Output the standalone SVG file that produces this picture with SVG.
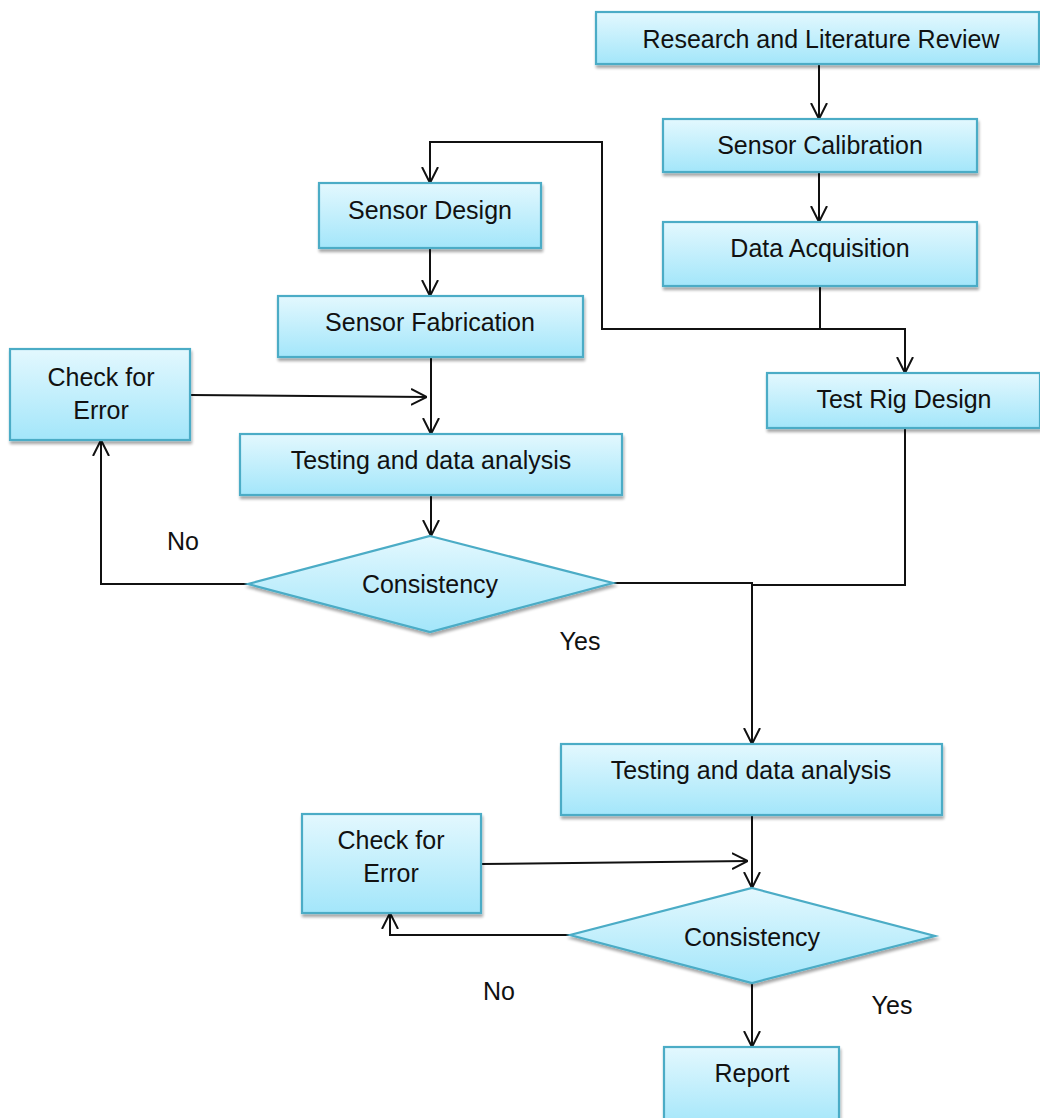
<svg xmlns="http://www.w3.org/2000/svg" width="1040" height="1118" viewBox="0 0 1040 1118">
<style>
.box{fill:url(#g);stroke:#4bacc6;stroke-width:2.2;filter:url(#sh)}
.t{font-family:"Liberation Sans",Arial,sans-serif;font-size:25px;fill:#111;text-anchor:middle}
.c{fill:none;stroke:#111;stroke-width:2}
</style>
<defs>
<linearGradient id="g" x1="0" y1="0" x2="0" y2="1">
<stop offset="0" stop-color="#e3f8fe"/>
<stop offset="1" stop-color="#a3e6fa"/>
</linearGradient>
<filter id="sh" x="-10%" y="-10%" width="120%" height="130%">
<feGaussianBlur in="SourceAlpha" stdDeviation="1.5"/>
<feOffset dx="1" dy="3" result="b"/>
<feComponentTransfer><feFuncA type="linear" slope="0.35"/></feComponentTransfer>
<feMerge><feMergeNode/><feMergeNode in="SourceGraphic"/></feMerge>
</filter>
<marker id="a" markerUnits="userSpaceOnUse" markerWidth="16" markerHeight="22" viewBox="0 0 16 22" refX="16" refY="11" orient="auto">
<path d="M0,3 L16,11 L0,19" fill="none" stroke="#111" stroke-width="2"/>
</marker>
</defs>

<g id="connectors">
<path class="c" d="M819,64 V119" marker-end="url(#a)"/>
<path class="c" d="M819,172 V222" marker-end="url(#a)"/>
<path class="c" d="M820,286 V329 H602 V142 H430 V183" marker-end="url(#a)"/>
<path class="c" d="M820,329 H905 V373" marker-end="url(#a)"/>
<path class="c" d="M430,248 V296" marker-end="url(#a)"/>
<path class="c" d="M431,357 V434" marker-end="url(#a)"/>
<path class="c" d="M190,395 L427,397" marker-end="url(#a)"/>
<path class="c" d="M431,495 V536" marker-end="url(#a)"/>
<path class="c" d="M248,584 H101 V440" marker-end="url(#a)"/>
<path class="c" d="M613,583 H752 V744" marker-end="url(#a)"/>
<path class="c" d="M905,428 V585 H752"/>
<path class="c" d="M752,815 V888" marker-end="url(#a)"/>
<path class="c" d="M481,864 L748,861" marker-end="url(#a)"/>
<path class="c" d="M570,935 H390 V913" marker-end="url(#a)"/>
<path class="c" d="M752,983 V1047" marker-end="url(#a)"/>
</g>

<g id="research"><rect class="box" x="596" y="12" width="443" height="52"/><text class="t" x="821" y="48">Research and Literature Review</text></g>
<g id="calibration"><rect class="box" x="663" y="119" width="314" height="53"/><text class="t" x="820" y="154">Sensor Calibration</text></g>
<g id="acquisition"><rect class="box" x="663" y="222" width="314" height="64"/><text class="t" x="820" y="257">Data Acquisition</text></g>
<g id="design"><rect class="box" x="319" y="183" width="222" height="65"/><text class="t" x="430" y="219">Sensor Design</text></g>
<g id="fabrication"><rect class="box" x="278" y="296" width="305" height="61"/><text class="t" x="430" y="331">Sensor Fabrication</text></g>
<g id="check1"><rect class="box" x="10" y="349" width="180" height="91"/><text class="t" x="101" y="386">Check for</text><text class="t" x="101" y="419">Error</text></g>
<g id="testing1"><rect class="box" x="240" y="434" width="382" height="61"/><text class="t" x="431" y="469">Testing and data analysis</text></g>
<g id="consistency1"><polygon class="box" points="430,536 613,583 430,632 248,584"/><text class="t" x="430" y="593">Consistency</text></g>
<g id="rig"><rect class="box" x="767" y="373" width="273" height="55"/><text class="t" x="904" y="408">Test Rig Design</text></g>
<g id="testing2"><rect class="box" x="561" y="744" width="381" height="71"/><text class="t" x="751" y="779">Testing and data analysis</text></g>
<g id="check2"><rect class="box" x="302" y="814" width="179" height="99"/><text class="t" x="391" y="849">Check for</text><text class="t" x="391" y="882">Error</text></g>
<g id="consistency2"><polygon class="box" points="752,888 935,936 752,983 570,935"/><text class="t" x="752" y="946">Consistency</text></g>
<g id="report"><rect class="box" x="664" y="1047" width="175" height="80"/><text class="t" x="752" y="1082">Report</text></g>

<g id="labels">
<text class="t" x="183" y="550">No</text>
<text class="t" x="580" y="650">Yes</text>
<text class="t" x="499" y="1000">No</text>
<text class="t" x="892" y="1014">Yes</text>
</g>
</svg>
